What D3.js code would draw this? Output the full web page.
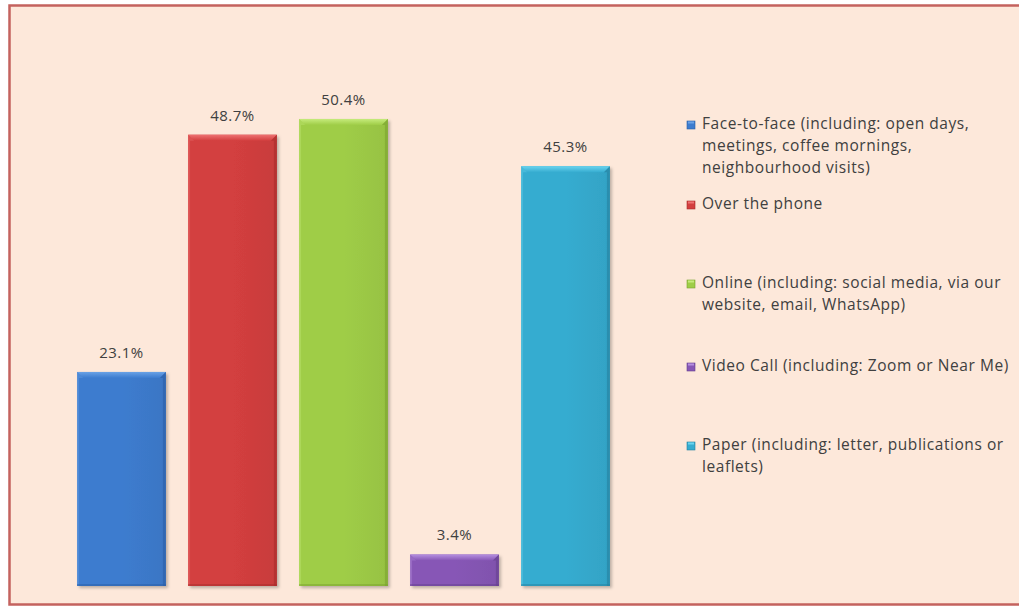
<!DOCTYPE html>
<html>
<head>
<meta charset="utf-8">
<script src="https://cdn.jsdelivr.net/npm/d3@7/dist/d3.min.js"></script>
<style>
  html, body { margin: 0; padding: 0; background: #ffffff; overflow: hidden; }
  svg { display: block; }
</style>
</head>
<body>
<svg id="chart" width="1019" height="607"></svg>
<script>
// Contact channels and share of respondents (%)
const categories = [
  "Face-to-face (including: open days, meetings, coffee mornings, neighbourhood visits)",
  "Over the phone",
  "Online (including: social media, via our website, email, WhatsApp)",
  "Video Call (including: Zoom or Near Me)",
  "Paper (including: letter, publications or leaflets)"
];
const values = [23.1, 48.7, 50.4, 3.4, 45.3];
const valueLabels = ["23.1%", "48.7%", "50.4%", "3.4%", "45.3%"];

// Legend text, wrapped the way it appears beside the plot
const legendLines = [
  ["Face-to-face (including: open days,", "meetings, coffee mornings,", "neighbourhood visits)"],
  ["Over the phone"],
  ["Online (including: social media, via our", "website, email, WhatsApp)"],
  ["Video Call (including: Zoom or Near Me)"],
  ["Paper (including: letter, publications or", "leaflets)"]
];

// Bar colours: base, light highlight, dark edge
const palette = [
  { base: "#3d7ccf", light: "#6aa2e6", dark: "#2a5ea6" },
  { base: "#d33f3f", light: "#ee7272", dark: "#a82b2b" },
  { base: "#9fcd47", light: "#c6eb7c", dark: "#79a22f" },
  { base: "#8757b6", light: "#b690e0", dark: "#653f8e" },
  { base: "#36acd0", light: "#6ad4ef", dark: "#25819f" }
];

const svg = d3.select("#chart");
const W = 1019, H = 607;

// Chart area: fill, then the frame on the top, left and bottom sides
svg.append("rect")
  .attr("x", 9.5).attr("y", 5.5)
  .attr("width", W - 9.5).attr("height", 599)
  .attr("fill", "#fde8da");
svg.append("path")
  .attr("d", `M${W},5.5H9.5V604.5H${W}`)
  .attr("fill", "none")
  .attr("stroke", "#c4625e")
  .attr("stroke-width", 2.5);

const defs = svg.append("defs");
palette.forEach((c, i) => {
  const g = defs.append("linearGradient").attr("id", "body" + i)
    .attr("x1", 0).attr("x2", 1).attr("y1", 0).attr("y2", 0);
  g.append("stop").attr("offset", "0%").attr("stop-color", c.base);
  g.append("stop").attr("offset", "50%").attr("stop-color", c.base);
  g.append("stop").attr("offset", "100%").attr("stop-color", d3.color(c.base).darker(0.15));
  const t = defs.append("linearGradient").attr("id", "top" + i)
    .attr("x1", 0).attr("x2", 0).attr("y1", 0).attr("y2", 1);
  t.append("stop").attr("offset", "0%").attr("stop-color", c.light);
  t.append("stop").attr("offset", "100%").attr("stop-color", c.base);
});
const shadow = defs.append("filter").attr("id", "shadow")
  .attr("x", "-10%").attr("y", "-10%").attr("width", "130%").attr("height", "130%");
shadow.append("feDropShadow")
  .attr("dx", 2).attr("dy", 2).attr("stdDeviation", 1.5)
  .attr("flood-color", "#000").attr("flood-opacity", 0.25);

const x = d3.scaleBand()
  .domain(d3.range(values.length))
  .range([66, 621])
  .paddingInner(0.2)
  .paddingOuter(0.1);

const y = d3.scaleLinear().domain([0, 60]).range([586, 30]);

const bars = svg.append("g").selectAll("g.bar")
  .data(values)
  .join("g").attr("class", "bar");

const bev = 6;
bars.each(function (v, i) {
  const g = d3.select(this);
  const x0 = x(i), w = x.bandwidth(), y0 = y(v), y1 = y(0), h = y1 - y0;
  const c = palette[i];
  g.append("rect")
    .attr("x", x0).attr("y", y0).attr("width", w).attr("height", h)
    .attr("fill", `url(#body${i})`)
    .attr("filter", "url(#shadow)");
  // top bevel
  g.append("path")
    .attr("d", `M${x0},${y0}L${x0 + w},${y0}L${x0 + w - bev},${y0 + bev}L${x0 + bev},${y0 + bev}Z`)
    .attr("fill", `url(#top${i})`);
  // right edge
  g.append("path")
    .attr("d", `M${x0 + w},${y0}L${x0 + w},${y1}L${x0 + w - 3},${y1}L${x0 + w - 3},${y0 + bev}L${x0 + w - bev},${y0 + bev}Z`)
    .attr("fill", c.dark).attr("opacity", 0.6);
  // left edge
  g.append("path")
    .attr("d", `M${x0},${y0}L${x0 + bev},${y0 + bev}L${x0 + 2},${y0 + bev}L${x0 + 2},${y1}L${x0},${y1}Z`)
    .attr("fill", c.light).attr("opacity", 0.35);
  // bottom edge
  g.append("rect")
    .attr("x", x0).attr("y", y1 - 2).attr("width", w).attr("height", 2)
    .attr("fill", c.dark).attr("opacity", 0.5);
});

// Value labels above bars
svg.append("g").selectAll("text")
  .data(values)
  .join("text")
  .attr("x", (d, i) => x(i) + x.bandwidth() / 2)
  .attr("y", d => y(d) - 14)
  .attr("text-anchor", "middle")
  .attr("font-family", "'Open Sans', sans-serif")
  .attr("font-size", 15)
  .attr("letter-spacing", 0.5)
  .attr("fill", "#404040")
  .text((d, i) => valueLabels[i]);

// Legend
const legendFirstBaseline = [129, 209, 288, 371, 450];
const lineGap = 21.8;
const legend = svg.append("g");
legendLines.forEach((lines, i) => {
  const c = palette[i];
  const by = legendFirstBaseline[i];
  legend.append("rect")
    .attr("x", 687).attr("y", by - 8).attr("width", 8).attr("height", 8)
    .attr("fill", c.base).attr("stroke", c.dark).attr("stroke-width", 0.6);
  legend.append("rect")
    .attr("x", 688).attr("y", by - 7.5).attr("width", 6).attr("height", 2)
    .attr("fill", c.light);
  const t = legend.append("text")
    .attr("font-family", "'Open Sans', sans-serif")
    .attr("font-size", 15.5)
    .attr("letter-spacing", 0.55)
    .attr("fill", "#404040");
  lines.forEach((ln, k) => {
    t.append("tspan").attr("x", 702).attr("y", by + k * lineGap).text(ln);
  });
});
</script>
</body>
</html>
